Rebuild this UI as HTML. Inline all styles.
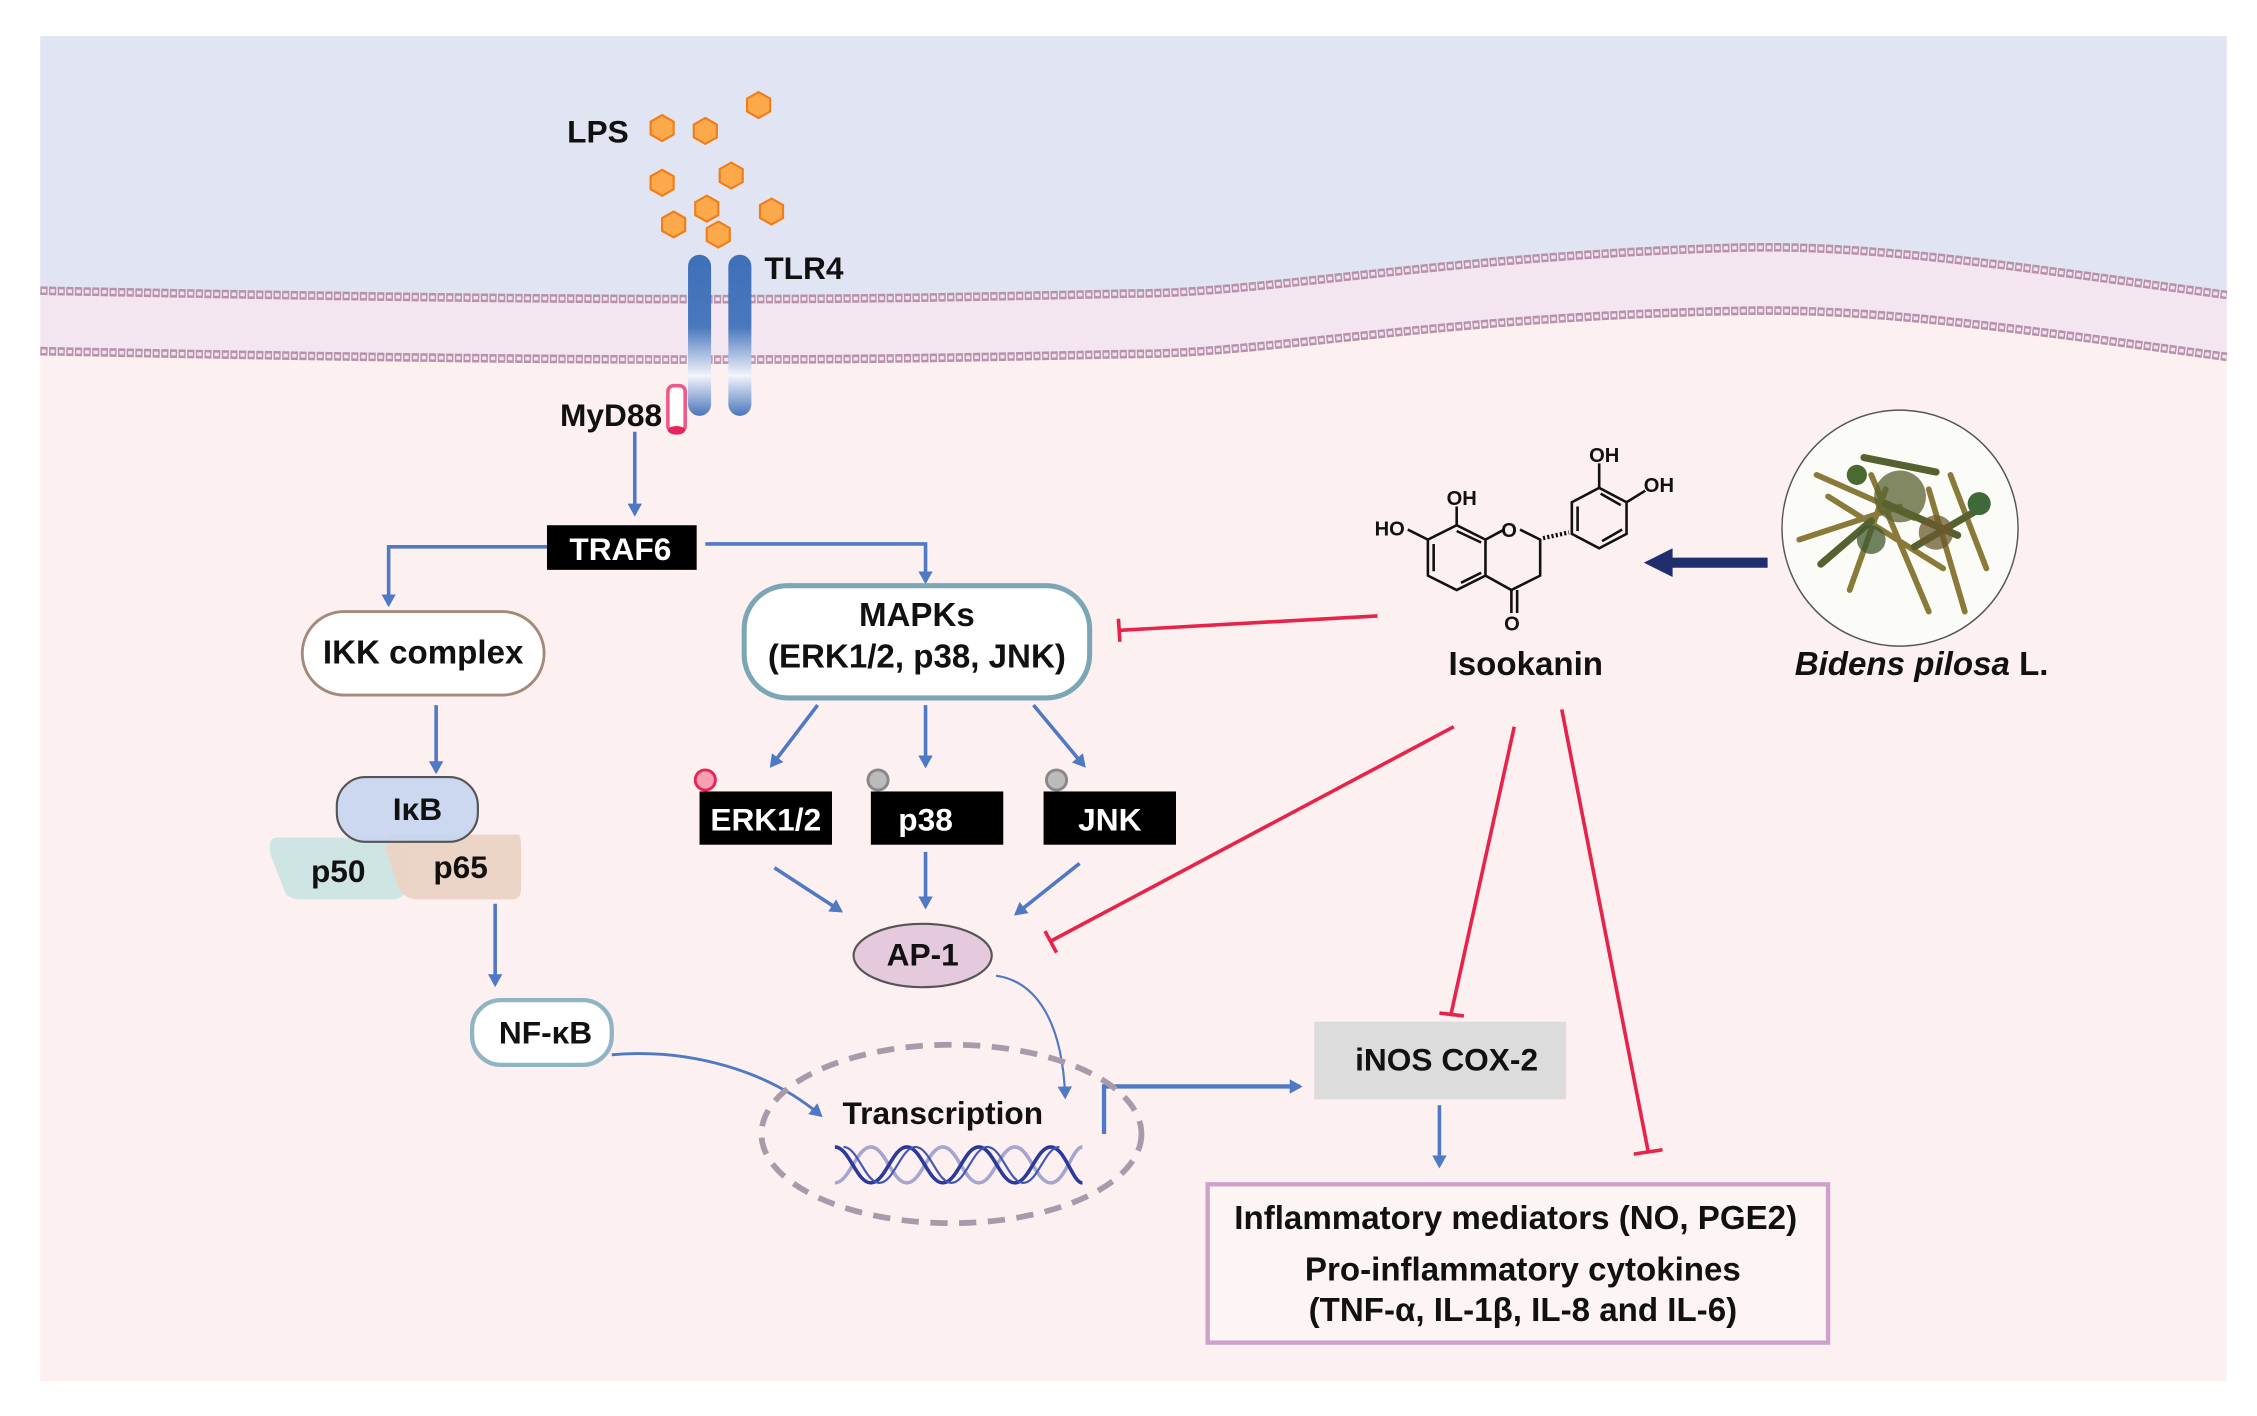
<!DOCTYPE html>
<html><head><meta charset="utf-8"><style>html,body{margin:0;padding:0;background:#fff}svg{display:block}text{font-family:"Liberation Sans",Arial,sans-serif;font-weight:bold;fill:#111}</style></head><body>
<svg width="2257" height="1416" viewBox="0 0 1568 984" preserveAspectRatio="none" xmlns="http://www.w3.org/2000/svg">
<defs>
<linearGradient id="tl" x1="0" y1="0" x2="0" y2="1"><stop offset="0" stop-color="#3e6fb8"/><stop offset="0.45" stop-color="#4a78bd"/><stop offset="0.75" stop-color="#f2f4fb"/><stop offset="1" stop-color="#4a76bb"/></linearGradient>
<marker id="ab" markerWidth="10" markerHeight="10" refX="7" refY="5" orient="auto" markerUnits="userSpaceOnUse"><path d="M0,0 L9,5 L0,10 Z" fill="#4f79c4"/></marker>
</defs>
<rect x="28" y="25" width="1519" height="935" fill="#fdf0f0"/>
<path d="M28,25 H1547 V205 C1400,185 1300,170 1210,172 C1000,178 880,204 785,204 C600,208 480,211 28,202 Z" fill="#e1e4f2"/>
<path d="M28,202 C480,211 600,208 785,204 C880,204 1000,178 1210,172 C1300,170 1400,185 1547,205 V248 C1400,228 1300,214 1210,216 C1000,220 880,246 785,246 C600,250 480,253 28,244 Z" fill="#f3e6f1"/>
<g fill="none">
<path d="M28,202 C480,211 600,208 785,204 C880,204 1000,178 1210,172 C1300,170 1400,185 1547,205" stroke="#b892ab" stroke-width="6" stroke-dasharray="5 1"/>
<path d="M28,202 C480,211 600,208 785,204 C880,204 1000,178 1210,172 C1300,170 1400,185 1547,205" stroke="#efe2ee" stroke-width="2.5" stroke-dasharray="3 3" stroke-dashoffset="-1"/>
<path d="M28,244 C480,253 600,250 785,246 C880,246 1000,220 1210,216 C1300,214 1400,228 1547,248" stroke="#b892ab" stroke-width="6" stroke-dasharray="5 1"/>
<path d="M28,244 C480,253 600,250 785,246 C880,246 1000,220 1210,216 C1300,214 1400,228 1547,248" stroke="#efe2ee" stroke-width="2.5" stroke-dasharray="3 3" stroke-dashoffset="-1"/>
</g>
<g fill="#fba94a" stroke="#f07d18" stroke-width="1.5">
<path d="M0,-9 L8,-4.5 L8,4.5 L0,9 L-8,4.5 L-8,-4.5 Z" transform="translate(460,89)"/>
<path d="M0,-9 L8,-4.5 L8,4.5 L0,9 L-8,4.5 L-8,-4.5 Z" transform="translate(490,91)"/>
<path d="M0,-9 L8,-4.5 L8,4.5 L0,9 L-8,4.5 L-8,-4.5 Z" transform="translate(527,73)"/>
<path d="M0,-9 L8,-4.5 L8,4.5 L0,9 L-8,4.5 L-8,-4.5 Z" transform="translate(460,127)"/>
<path d="M0,-9 L8,-4.5 L8,4.5 L0,9 L-8,4.5 L-8,-4.5 Z" transform="translate(508,122)"/>
<path d="M0,-9 L8,-4.5 L8,4.5 L0,9 L-8,4.5 L-8,-4.5 Z" transform="translate(491,145)"/>
<path d="M0,-9 L8,-4.5 L8,4.5 L0,9 L-8,4.5 L-8,-4.5 Z" transform="translate(468,156)"/>
<path d="M0,-9 L8,-4.5 L8,4.5 L0,9 L-8,4.5 L-8,-4.5 Z" transform="translate(499,163)"/>
<path d="M0,-9 L8,-4.5 L8,4.5 L0,9 L-8,4.5 L-8,-4.5 Z" transform="translate(536,147)"/>
</g>
<text x="394" y="99" font-size="22">LPS</text>
<rect x="478" y="177" width="16" height="112" rx="8" fill="url(#tl)"/>
<rect x="506" y="177" width="16" height="112" rx="8" fill="url(#tl)"/>
<text x="531" y="194" font-size="22">TLR4</text>
<text x="460" y="296" font-size="22" text-anchor="end">MyD88</text>
<rect x="464" y="268" width="12" height="32" rx="4" fill="#fff" stroke="#ee5a86" stroke-width="2.5"/>
<ellipse cx="470" cy="299" rx="6" ry="3" fill="#e8245a"/>
<g stroke="#4f79c4" stroke-width="2.5" fill="none" marker-end="url(#ab)">
<line x1="441" y1="300" x2="441" y2="357"/>
<path d="M380,380 H270 V420"/>
<path d="M490,378 H643 V404"/>
<line x1="303" y1="490" x2="303" y2="536"/>
<line x1="344" y1="628" x2="344" y2="684"/>
<line x1="568" y1="490" x2="536" y2="532"/>
<line x1="643" y1="490" x2="643" y2="532"/>
<line x1="718" y1="490" x2="753" y2="532"/>
<line x1="538" y1="603" x2="584" y2="633"/>
<line x1="643" y1="592" x2="643" y2="630"/>
<line x1="750" y1="600" x2="706" y2="635"/>
<path d="M425,733 C480,728 535,745 570,775" stroke-width="2"/>
<path d="M692,678 C720,682 738,710 740,762" stroke-width="1.5"/>
<path d="M767,788 V755 H903" stroke-width="3"/>
<line x1="1000" y1="768" x2="1000" y2="810"/>
</g>
<rect x="380" y="365" width="104" height="31" fill="#000"/>
<text x="431" y="389" font-size="22" text-anchor="middle" style="fill:#fff">TRAF6</text>
<rect x="210" y="425" width="168" height="58" rx="29" fill="#fff" stroke="#a58a7a" stroke-width="2"/>
<text x="294" y="461" font-size="23" text-anchor="middle">IKK complex</text>
<rect x="517" y="407" width="240" height="78" rx="30" fill="#fff" stroke="#7ba6b5" stroke-width="3.5"/>
<text x="637" y="435" font-size="23" text-anchor="middle">MAPKs</text>
<text x="637" y="464" font-size="23" text-anchor="middle">(ERK1/2, p38, JNK)</text>
<path d="M192,582 Q186,582 188,594 L198,620 Q200,625 210,625 H272 Q282,625 282,615 V582 Z" fill="#cfe5e3"/>
<path d="M270,580 H360 Q362,580 362,590 V618 Q362,625 355,625 H290 Q280,625 276,615 L268,590 Z" fill="#ebd3c4" opacity="0.95"/>
<rect x="234" y="540" width="98" height="45" rx="20" fill="#c5d5ee" fill-opacity="0.9" stroke="#555" stroke-width="1.5"/>
<text x="290" y="570" font-size="22" text-anchor="middle">IκB</text>
<text x="235" y="613" font-size="22" text-anchor="middle">p50</text>
<text x="320" y="610" font-size="22" text-anchor="middle">p65</text>
<rect x="328" y="695" width="97" height="45" rx="20" fill="#fff" stroke="#8fb4c3" stroke-width="3"/>
<text x="379" y="725" font-size="22" text-anchor="middle">NF-κB</text>
<rect x="486" y="550" width="92" height="37" fill="#000"/>
<text x="532" y="577" font-size="22" text-anchor="middle" style="fill:#fff">ERK1/2</text>
<rect x="605" y="550" width="92" height="37" fill="#000"/>
<text x="643" y="577" font-size="22" text-anchor="middle" style="fill:#fff">p38</text>
<rect x="725" y="550" width="92" height="37" fill="#000"/>
<text x="771" y="577" font-size="22" text-anchor="middle" style="fill:#fff">JNK</text>
<circle cx="490" cy="542" r="7" fill="#f7a0b4" stroke="#e8245a" stroke-width="2"/>
<circle cx="610" cy="542" r="7" fill="#bbb" stroke="#888" stroke-width="2"/>
<circle cx="734" cy="542" r="7" fill="#bbb" stroke="#888" stroke-width="2"/>
<ellipse cx="641" cy="664" rx="48" ry="22" fill="#e5c9dd" stroke="#555" stroke-width="1.5"/>
<text x="641" y="671" font-size="22" text-anchor="middle">AP-1</text>
<ellipse cx="661" cy="788" rx="132" ry="62" fill="none" stroke="#a89aaa" stroke-width="4" stroke-dasharray="12 8"/>
<text x="655" y="781" font-size="22" text-anchor="middle">Transcription</text>
<g fill="none" stroke-width="2.5">
<path d="M580,822 C590,822 595,797 605,797 C615,797 620,822 630,822 C640,822 645,797 655,797 C665,797 670,822 680,822 C690,822 695,797 705,797 C715,797 720,822 730,822 C740,822 745,797 752,797" stroke="#a5a6cf"/>
<path d="M580,797 C590,797 595,822 605,822 C615,822 620,797 630,797 C640,797 645,822 655,822 C665,822 670,797 680,797 C690,797 695,822 705,822 C715,822 720,797 730,797 C740,797 745,822 752,822" stroke="#2a3a9a"/>
<path d="M586,797 C596,797 601,822 611,822 C621,822 626,797 636,797 C646,797 651,822 661,822 C671,822 676,797 686,797 C696,797 701,822 711,822 C721,822 726,797 736,797" stroke="#4456b5" stroke-width="1.5"/>
</g>
<rect x="913" y="710" width="175" height="54" fill="#dcdcdc"/>
<text x="1005" y="744" font-size="22" text-anchor="middle">iNOS COX-2</text>
<rect x="839" y="823" width="431" height="110" fill="#fff" fill-opacity="0.3" stroke="#cfa0c8" stroke-width="3"/>
<text x="1053" y="854" font-size="23" text-anchor="middle">Inflammatory mediators (NO, PGE2)</text>
<text x="1058" y="890" font-size="23" text-anchor="middle">Pro-inflammatory cytokines</text>
<text x="1058" y="918" font-size="23" text-anchor="middle">(TNF-α, IL-1β, IL-8 and IL-6)</text>
<g stroke="#e8234a" stroke-width="2.5" fill="none">
<line x1="957" y1="428" x2="778" y2="438"/><line x1="777" y1="430" x2="778" y2="446"/>
<line x1="1010" y1="505" x2="730" y2="654"/><line x1="726" y1="647" x2="734" y2="662"/>
<line x1="1052" y1="505" x2="1008" y2="705"/><line x1="1000" y1="704" x2="1017" y2="706"/>
<line x1="1085" y1="493" x2="1145" y2="800"/><line x1="1135" y1="802" x2="1155" y2="799"/>
</g>
<g stroke="#111" stroke-width="1.8" fill="none">
<path d="M992,375 L1012,365 L1032,375 L1032,400 L1012,410 L992,400 Z"/>
<path d="M996,378 L996,397 M1015,405 L1029,398 M1012,369 L1029,377"/>
<path d="M1032,375 L1045,368 M1056,368 L1070,375 L1070,400 L1050,410 L1032,400"/>
<path d="M1050,410 L1050,426 M1054,410 L1054,426"/>
<path d="M992,375 L978,368 M1012,365 L1012,352"/>
<path d="M1092,349 L1111,339 L1130,349 L1130,371 L1111,381 L1092,371 Z"/>
<path d="M1096,352 L1096,369 M1113,376 L1127,368 M1112,343 L1126,351"/>
<path d="M1111,339 L1111,322 M1130,349 L1143,341"/>
<path d="M1072,374 L1090,370" stroke-dasharray="1.5 1.5" stroke-width="3"/>
</g>
<g font-size="14"><text x="955" y="372">HO</text><text x="1005" y="351">OH</text><text x="1043" y="373">O</text><text x="1045" y="438">O</text><text x="1104" y="321">OH</text><text x="1142" y="342">OH</text></g>
<text x="1060" y="469" font-size="23" text-anchor="middle">Isookanin</text>
<line x1="1228" y1="391" x2="1160" y2="391" stroke="#1f2f6e" stroke-width="7"/>
<path d="M1142,391 L1162,381 L1162,401 Z" fill="#1f2f6e"/>
<ellipse cx="1320" cy="367" rx="82" ry="82" fill="#fbfbf8" stroke="#555" stroke-width="1"/>
<g stroke-linecap="round">
<path d="M1262,330 L1330,360 M1300,330 L1340,425 M1250,375 L1320,352 M1340,340 L1365,425 M1285,410 L1310,340 M1355,330 L1380,395 M1270,345 L1350,395" stroke="#8a7a3a" stroke-width="4"/>
<path d="M1295,318 L1345,328 M1310,350 L1360,372 M1265,392 L1300,362 M1330,380 L1378,352" stroke="#55612e" stroke-width="5"/>
<circle cx="1320" cy="345" r="18" fill="#5a6330" opacity="0.75"/>
<circle cx="1345" cy="370" r="12" fill="#6b5a2c" opacity="0.75"/>
<circle cx="1300" cy="375" r="10" fill="#3f5a2f" opacity="0.75"/>
<circle cx="1375" cy="350" r="8" fill="#3e6a3a"/>
<circle cx="1290" cy="330" r="7" fill="#4a6a32"/>
</g>
<text x="1335" y="469" font-size="23" text-anchor="middle"><tspan font-style="italic">Bidens pilosa</tspan> L.</text>
</svg>
</body></html>
